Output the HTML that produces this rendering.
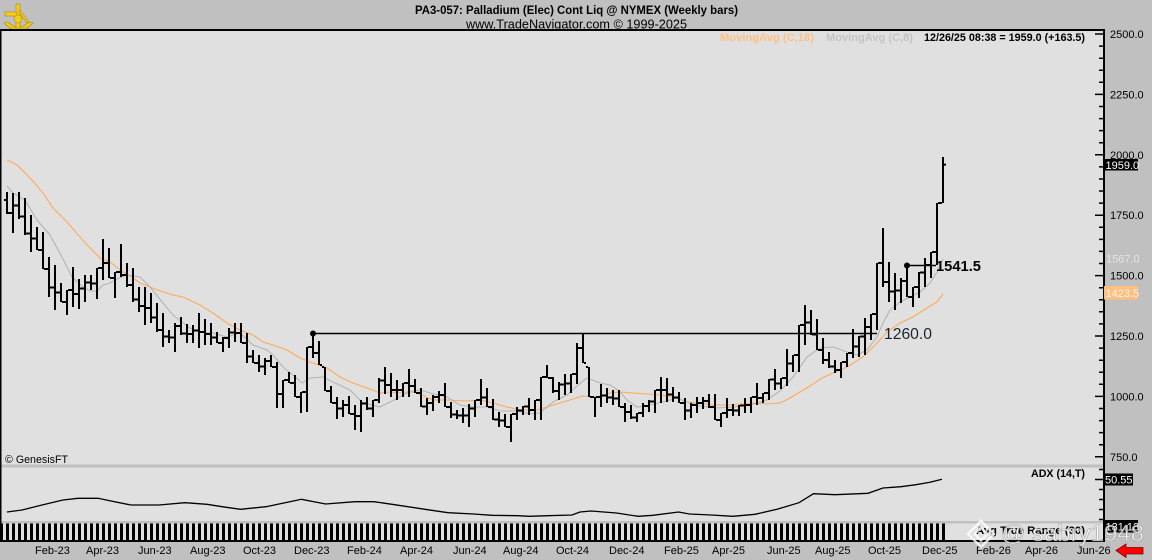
<!DOCTYPE html>
<html><head><meta charset="utf-8"><style>
html,body{margin:0;padding:0;background:#c0c0c0;width:1152px;height:560px;overflow:hidden}
svg{display:block}
text{font-family:"Liberation Sans",Arial,sans-serif}
</style></head><body>
<svg width="1152" height="560" viewBox="0 0 1152 560" xmlns="http://www.w3.org/2000/svg">
<defs>
<pattern id="atr" x="0" y="0" width="6" height="20" patternUnits="userSpaceOnUse"><rect x="0" y="0" width="3" height="20" fill="#000"/></pattern>
</defs>
<rect x="0" y="0" width="1152" height="560" fill="#c0c0c0"/>
<!-- logo -->
<g fill="#f2cc22" stroke="#b08800" stroke-width="0.6">
<path d="M4 23 Q18 38 33 23 L29 22 Q18 32 8 22Z"/>
<rect x="16" y="4" width="4" height="26"/>
<rect x="5" y="12" width="12" height="4"/>
<circle cx="18" cy="19" r="4"/>
<path d="M10 28 L28 28 L25 33 L13 33Z"/>
<path d="M20 10 L29 22 L27 23 L19 12Z"/>
</g>
<!-- title -->
<text x="415" y="14" font-size="11.5" font-weight="bold" textLength="323" lengthAdjust="spacingAndGlyphs">PA3-057:  Palladium (Elec) Cont Liq @ NYMEX  (Weekly bars)</text>
<text x="466" y="28.5" font-size="12.5" textLength="221" lengthAdjust="spacingAndGlyphs">www.TradeNavigator.com © 1999-2025</text>
<!-- panels -->
<rect x="0" y="30" width="1103" height="511" fill="#e0e0e0"/>
<rect x="0" y="29" width="1104" height="2" fill="#000"/>
<rect x="0" y="30" width="1.5" height="511" fill="#000"/>
<rect x="1.5" y="464.5" width="1101.5" height="3" fill="#c0c0c0"/>
<rect x="1.5" y="521" width="1101.5" height="2.5" fill="#c0c0c0"/>
<rect x="0" y="523.5" width="945" height="16.5" fill="url(#atr)"/>
<rect x="0" y="540" width="1105" height="2" fill="#000"/>
<rect x="1103" y="29" width="2" height="513" fill="#000"/>
<!-- legend -->
<text x="720" y="41" font-size="11" font-weight="bold" fill="#ffc080" textLength="94" lengthAdjust="spacingAndGlyphs">MovingAvg (C,18)</text>
<text x="826" y="41" font-size="11" font-weight="bold" fill="#c4c4c4" textLength="87" lengthAdjust="spacingAndGlyphs">MovingAvg (C,8)</text>
<text x="924" y="41" font-size="11" font-weight="bold" fill="#000" textLength="161" lengthAdjust="spacingAndGlyphs">12/26/25 08:38 = 1959.0 (+163.5)</text>
<!-- right axis ticks -->
<path d="M1095 34H1103M1095 94.4H1103M1095 154.8H1103M1095 215.2H1103M1095 275.6H1103M1095 336H1103M1095 396.4H1103M1095 456.8H1103M1099 46.1H1103M1099 58.2H1103M1099 70.2H1103M1099 82.3H1103M1099 106.5H1103M1099 118.6H1103M1099 130.6H1103M1099 142.7H1103M1099 166.9H1103M1099 179H1103M1099 191H1103M1099 203.1H1103M1099 227.3H1103M1099 239.4H1103M1099 251.4H1103M1099 263.5H1103M1099 287.7H1103M1099 299.8H1103M1099 311.8H1103M1099 323.9H1103M1099 348.1H1103M1099 360.2H1103M1099 372.2H1103M1099 384.3H1103M1099 408.5H1103M1099 420.6H1103M1099 432.6H1103M1099 444.7H1103M1099 469.5H1103M1095 479.5H1103M1099 489.5H1103M1099 499.5H1103M1099 509.5H1103M1099 519.5H1103" stroke="#000" stroke-width="1.5" fill="none"/>
<g font-size="11" fill="#000">
<text x="1110" y="38">2500.0</text>
<text x="1110" y="98.4">2250.0</text>
<text x="1110" y="158.8">2000.0</text>
<text x="1110" y="219">1750.0</text>
<text x="1110" y="279.4">1500.0</text>
<text x="1110" y="340">1250.0</text>
<text x="1110" y="400.4">1000.0</text>
<text x="1110" y="460.8">750.0</text>
</g>
<rect x="1104" y="159" width="34" height="11.5" fill="#000"/>
<text x="1105.5" y="168.8" font-size="11" fill="#fff">1959.0</text>
<text x="1106" y="262.5" font-size="11" fill="#e6e6e6">1567.0</text>
<rect x="1104" y="286" width="34" height="13.5" fill="#ffbf80"/>
<text x="1105.5" y="297" font-size="11" fill="#fff4ea">1423.5</text>
<!-- MAs -->
<polyline fill="none" stroke="#ffaa58" stroke-width="1.1" points="7,160 17,165 32,180 43,193 53,208 67,222 80,237 90,248 100,258 110,262 120,270 130,276 140,283 150,287 163,292 173,295 183,297 200,305 213,313 227,323 240,330 253,335 263,342 273,345 287,350 300,358 313,363 327,368 340,377 353,383 367,388 380,393 390,392 403,393 410,391 420,394 433,400 447,400 467,401 480,400 493,403 507,407 520,410 537,410 547,407 560,403 573,399 583,396 597,397 610,393 620,392 633,393 647,394 660,395 673,397 687,402 700,403 713,405 727,405 740,404 753,403 767,404 780,403 790,398 800,392 810,386 822,378 833,373 847,367 863,357 877,343 887,332 900,323 913,317 927,308 937,302 943,294"/>
<polyline fill="none" stroke="#b4b4b4" stroke-width="1.1" points="7,186 13,193 25,200 37,220 50,235 62,257 72,277 83,287 90,291 97,291 103,285 110,283 117,279 127,275 140,277 150,287 163,303 173,315 182,322 190,328 200,332 213,333 227,337 233,335 240,333 253,345 267,350 273,355 283,367 293,375 302,383 310,378 323,377 333,382 350,390 362,402 372,405 380,407 390,402 407,393 420,390 430,393 447,397 460,405 473,407 487,407 500,411 517,411 530,414 540,413 553,402 567,395 578,385 587,378 600,383 610,385 618,390 627,400 637,407 650,405 663,402 677,398 687,402 700,406 717,408 733,407 750,405 767,400 780,391 793,377 807,357 820,348 833,347 847,352 857,355 867,350 877,337 883,323 890,310 900,302 910,297 920,292 930,283 937,272 943,259"/>
<!-- price bars -->
<path fill="none" stroke="#000" stroke-width="2" d="M7 192V214M4 200h2M8 213h2M13 193V233M10 213h2M14 205.5h2M19 192V219M16 205.5h2M20 216.5h2M25 198V235M22 216.5h2M26 233.5h2M31 215V252M28 233.5h2M32 238.5h2M37 227V250M34 238.5h2M38 250h2M43 232V269M40 250h2M44 269h2M49 257V297M46 269h2M50 287.5h2M55 265V310M52 287.5h2M56 292.5h2M61 283V302M58 292.5h2M62 302h2M67 290V315M64 302h2M68 290h2M73 267V307M70 290h2M74 294h2M79 279V309M76 294h2M80 288.5h2M85 275V302M82 288.5h2M86 282.5h2M91 275V290M88 282.5h2M92 283.5h2M97 268V299M94 283.5h2M98 268h2M103 239V280M100 268h2M104 263h2M109 248V278M106 263h2M110 278h2M115 272V298M112 278h2M116 272h2M121 244V277M118 272h2M122 275h2M127 263V287M124 275h2M128 285h2M133 268V302M130 285h2M134 299.5h2M139 287V312M136 299.5h2M140 306h2M145 287V325M142 306h2M146 308h2M151 293V323M148 308h2M152 317.5h2M157 303V332M154 317.5h2M158 330h2M163 313V347M160 330h2M164 336.5h2M169 330V343M166 336.5h2M170 337.5h2M175 323V352M172 337.5h2M176 326h2M181 317V335M178 326h2M182 333.5h2M187 324V343M184 333.5h2M188 334h2M193 325V343M190 334h2M194 330.5h2M199 313V348M196 330.5h2M200 332h2M205 319V345M202 332h2M206 334h2M211 323V345M208 334h2M212 337.5h2M217 332V343M214 337.5h2M218 343h2M223 337V352M220 343h2M224 338h2M229 328V348M226 338h2M230 332.5h2M235 323V342M232 332.5h2M236 333h2M241 323V343M238 333h2M242 343h2M247 333V363M244 343h2M248 356.5h2M253 350V363M250 356.5h2M254 363h2M259 355V372M256 363h2M260 366.5h2M265 358V375M262 366.5h2M266 361h2M271 355V367M268 361h2M272 367h2M277 362V408M274 367h2M278 394h2M283 380V408M280 394h2M284 380h2M289 372V383M286 380h2M290 383h2M295 375V397M292 383h2M296 397h2M301 392V413M298 397h2M302 392h2M307 347V412M304 392h2M308 347h2M313 333V358M310 347h2M314 353h2M319 341V365M316 353h2M320 365h2M325 367V391M322 367h2M326 391h2M331 386V403M328 391h2M332 403h2M337 397V419M334 403h2M338 408.5h2M343 400V417M340 408.5h2M344 405h2M349 396V414M346 405h2M350 414h2M355 405V430M352 414h2M356 416h2M361 400V432M358 416h2M362 403.5h2M367 397V410M364 403.5h2M368 408.5h2M373 400V417M370 408.5h2M374 400h2M379 378V403M376 400h2M380 380.5h2M385 367V394M382 380.5h2M386 385h2M391 373V397M388 385h2M392 390h2M397 380V400M394 390h2M398 390h2M403 383V397M400 390h2M404 383h2M409 369V397M406 383h2M410 386h2M415 379V393M412 386h2M416 393h2M421 388V407M418 393h2M422 406.5h2M427 398V415M424 406.5h2M428 403h2M433 395V411M430 403h2M434 397h2M439 391V403M436 397h2M440 395h2M445 383V407M442 395h2M446 407h2M451 402V418M448 407h2M452 414.5h2M457 410V419M454 414.5h2M458 415.5h2M463 408V423M460 415.5h2M464 415.5h2M469 404V427M466 415.5h2M470 408.5h2M475 400V417M472 408.5h2M476 400h2M481 379V405M478 400h2M482 397.5h2M487 388V407M484 397.5h2M488 407h2M493 399V420M490 407h2M494 419.5h2M499 412V427M496 419.5h2M500 420.5h2M505 414V427M502 420.5h2M506 427h2M511 414V442M508 427h2M512 414h2M517 407V420M514 414h2M518 410.5h2M523 406V415M520 410.5h2M524 406.5h2M529 398V415M526 406.5h2M530 410h2M535 400V420M532 410h2M536 400h2M541 377V420M538 400h2M542 377h2M547 365V378M544 377h2M548 378h2M553 377V393M550 378h2M554 391h2M559 382V400M556 391h2M560 384.5h2M565 374V395M562 384.5h2M566 383.5h2M571 374V393M568 383.5h2M572 374h2M577 343V384M574 374h2M578 348h2M583 333V363M580 348h2M584 363h2M589 367V397M586 367h2M590 397h2M595 397V417M592 397h2M596 397h2M601 384V407M598 397h2M602 395.5h2M607 388V403M604 395.5h2M608 397.5h2M613 390V405M610 397.5h2M614 398.5h2M619 390V407M616 398.5h2M620 407h2M625 403V422M622 407h2M626 412h2M631 405V419M628 412h2M632 417.5h2M637 413V422M634 417.5h2M638 413h2M643 403V417M640 413h2M644 406h2M649 400V412M646 406h2M650 401.5h2M655 390V413M652 401.5h2M656 390h2M661 377V403M658 390h2M662 390h2M667 378V402M664 390h2M668 394.5h2M673 387V402M670 394.5h2M674 397.5h2M679 392V403M676 397.5h2M680 403h2M685 398V420M682 403h2M686 410.5h2M691 403V418M688 410.5h2M692 405h2M697 397V413M694 405h2M698 403h2M703 397V409M700 403h2M704 401h2M709 394V408M706 401h2M710 407h2M715 394V420M712 407h2M716 420h2M721 413V427M718 420h2M722 413h2M727 398V418M724 413h2M728 410h2M733 404V416M730 410h2M734 410.5h2M739 405V416M736 410.5h2M740 405.5h2M745 398V413M742 405.5h2M746 405h2M751 397V413M748 405h2M752 397h2M757 383V405M754 397h2M758 398h2M763 393V403M760 398h2M764 393h2M769 379V400M766 393h2M770 379.5h2M775 369V390M772 379.5h2M776 383.5h2M781 378V389M778 383.5h2M782 378h2M787 349V386M784 378h2M788 363.5h2M793 355V372M790 363.5h2M794 355h2M799 325V372M796 355h2M800 325h2M805 305V345M802 325h2M806 322.5h2M811 310V335M808 322.5h2M812 334.5h2M817 319V350M814 334.5h2M818 350h2M823 338V364M820 350h2M824 360h2M829 352V368M826 360h2M830 366.5h2M835 360V373M832 366.5h2M836 370h2M841 362V378M838 370h2M842 362h2M847 353V367M844 362h2M848 353h2M853 329V358M850 353h2M854 346.5h2M859 336V357M856 346.5h2M860 336.5h2M865 318V355M862 336.5h2M866 327h2M871 314V340M868 327h2M872 314h2M877 263V330M874 314h2M878 263h2M883 228V287M880 263h2M884 282h2M889 262V302M886 282h2M890 291.5h2M895 273V310M892 291.5h2M896 290.5h2M901 278V303M898 290.5h2M902 281h2M907 265V297M904 281h2M908 297h2M913 287V307M910 297h2M914 287h2M919 272V298M916 287h2M920 272.5h2M925 258V287M922 272.5h2M926 265h2M931 252V278M928 265h2M932 252h2M937 203V265M934 252h2M938 203h2M943 157V203M940 203h2M944 164.6h2"/>
<!-- annotations -->
<path d="M313 333.5H877M907 265.5H936" stroke="#000" stroke-width="1.5" fill="none"/>
<circle cx="313" cy="333.5" r="3" fill="#000"/>
<circle cx="907" cy="265.5" r="3" fill="#000"/>
<text x="884" y="339" font-size="16" fill="#1a2530" textLength="48" lengthAdjust="spacingAndGlyphs">1260.0</text>
<text x="936" y="271" font-size="15" font-weight="bold" fill="#000" textLength="45" lengthAdjust="spacingAndGlyphs">1541.5</text>
<text x="5" y="463" font-size="11" fill="#000" textLength="63" lengthAdjust="spacingAndGlyphs">© GenesisFT</text>
<!-- ADX -->
<polyline fill="none" stroke="#000" stroke-width="1.3" points="7,512 22,510 41,505.3 63,500 78,498.3 98,498.3 111,501 131,505 159,505 185,502.7 207,504.3 222,506.7 240.5,509.3 266,506.7 285,502.7 301.5,499.3 325.6,504 355,501.7 374,501.7 392,504.3 425,509.3 448,512.7 473.5,514 492,515.3 518,515.7 529,516.3 548,515.7 572,515 580,512 591,511 616.5,513 638,516.3 653,515.3 678.5,512 689.5,514 711,515 733,516.3 755,514.3 777,509.3 799,502.7 813.5,493.7 835,494.7 868,493.3 883,488 901,486.7 916,484.7 930,482.3 942,479.3"/>
<text x="1031" y="477" font-size="11" font-weight="bold" fill="#000" textLength="54" lengthAdjust="spacingAndGlyphs">ADX (14,T)</text>
<rect x="1104" y="473.5" width="29" height="12" fill="#000"/>
<text x="1105" y="483.5" font-size="11" fill="#fff">50.55</text>
<!-- ATR -->
<text x="976" y="534" font-size="11" font-weight="bold" fill="#000" textLength="109" lengthAdjust="spacingAndGlyphs">Avg True Range (30)</text>
<rect x="1104" y="520" width="34" height="12.5" fill="#000"/>
<text x="1105.5" y="530.5" font-size="11" fill="#fff">131.13</text>
<!-- bottom axis labels -->
<g font-size="11" fill="#000">
<text x="35" y="554">Feb-23</text>
<text x="86" y="554">Apr-23</text>
<text x="138" y="554">Jun-23</text>
<text x="190" y="554">Aug-23</text>
<text x="243" y="554">Oct-23</text>
<text x="294" y="554">Dec-23</text>
<text x="347" y="554">Feb-24</text>
<text x="400" y="554">Apr-24</text>
<text x="453" y="554">Jun-24</text>
<text x="503" y="554">Aug-24</text>
<text x="556" y="554">Oct-24</text>
<text x="609" y="554">Dec-24</text>
<text x="664" y="554">Feb-25</text>
<text x="712" y="554">Apr-25</text>
<text x="767" y="554">Jun-25</text>
<text x="815" y="554">Aug-25</text>
<text x="868" y="554">Oct-25</text>
<text x="922" y="554">Dec-25</text>
<text x="976" y="554">Feb-26</text>
<text x="1025" y="554">Apr-26</text>
<text x="1077" y="554">Jun-26</text>
</g>
<!-- red arrow -->
<path d="M1116 550.5 L1126 544 L1126 547.5 L1143 547.5 L1143 554 L1126 554 L1126 557.5Z" fill="#ff0000" stroke="#800000" stroke-width="0.8"/>
<!-- watermark -->
<g opacity="0.82">
<path d="M981 521 L994 534 L981 547 L968 534Z M981 527.5 L987.5 534 L981 540.5 L974.5 534Z" fill="none" stroke="#ffffff" stroke-width="2.4"/>
<text x="1001" y="541" font-size="23" fill="#ffffff" stroke="#9a9a9a" stroke-width="0.6" textLength="143" lengthAdjust="spacingAndGlyphs">@ sabry1948</text>
</g>
</svg>
</body></html>
